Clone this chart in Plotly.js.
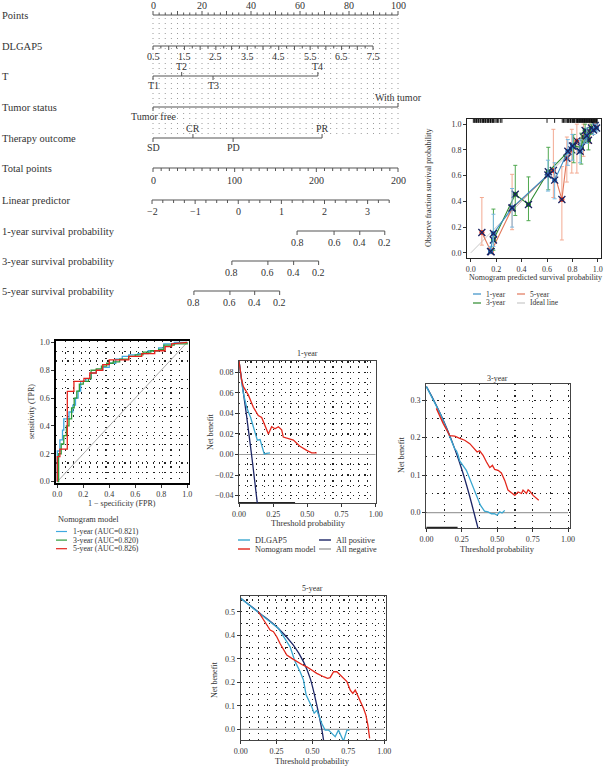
<!DOCTYPE html>
<html><head><meta charset="utf-8">
<script src="https://cdn.plot.ly/plotly-3.0.1.min.js"></script>
<style>html,body{margin:0;padding:0;background:#fff}#chart{width:604px;height:766px}</style>
</head><body><div id="chart"></div>
<script>
const W = 604, H = 766;
const FONT = '"Liberation Serif","DejaVu Serif","Times New Roman",serif';
const TXT = '#333';

// ---------------- Nomogram data ----------------
const nomoLabels = ["Points","DLGAP5","T","Tumor status","Therapy outcome","Total points","Linear predictor","1-year survival probability","3-year survival probability","5-year survival probability"];
const pointsTickVals = [0,20,40,60,80,100];
const dlgap5TickVals = [0.5,1.5,2.5,3.5,4.5,5.5,6.5,7.5];
const dlgap5MaxPoints = 89.8;
const tLevels = ["T1","T2","T3","T4"];
const tPoints = [0,11.7,24.5,67.3];
const tumorLevels = ["Tumor free","With tumor"];
const tumorPoints = [0,100];
const therapyLevels = ["SD","CR","PD","PR"];
const therapyPoints = [0,16.3,32.7,69.0];
const totalTickVals = [0,100,200,300];
const totalTickText = ["0","100","200","200"];
const totalMax = 300;
const lpTickVals = [-2,-1,0,1,2,3];
const lpTickText = ["\u22122","\u22121","0","1","2","3"];
const lpRange = [-2,3.5];
const survLabels = ["0.8","0.6","0.4","0.2"];
const surv1Points = [58.8,73.9,84.4,94.6];
const surv3Points = [32.2,46.9,57.4,67.6];
const surv5Points = [16.7,31.4,41.5,51.7];

// ---------------- Calibration data ----------------
const cal1x = [0.155,0.178,0.325,0.607,0.66,0.764,0.80,0.86,0.913,0.966,0.99];
const cal1y = [0.01,0.15,0.35,0.605,0.565,0.79,0.83,0.79,0.91,0.955,0.97];
const cal1lo = [0.0,0.05,0.20,0.48,0.42,0.68,0.72,0.70,0.85,0.92,0.94];
const cal1hi = [0.05,0.30,0.50,0.72,0.70,0.88,0.92,0.88,0.97,1.0,1.0];
const cal3x = [0.178,0.35,0.454,0.61,0.81,0.87,0.90,0.926,0.95];
const cal3y = [0.10,0.455,0.376,0.63,0.83,0.82,0.95,0.875,0.97];
const cal3lo = [0.02,0.29,0.25,0.49,0.70,0.69,0.86,0.80,0.92];
const cal3hi = [0.34,0.68,0.59,0.82,0.92,0.93,1.0,0.95,1.0];
const cal5x = [0.087,0.16,0.325,0.65,0.717,0.756,0.795,0.835,0.887,0.94,0.98];
const cal5y = [0.158,0.008,0.345,0.64,0.415,0.735,0.80,0.87,0.90,0.94,0.99];
const cal5lo = [0.06,0.0,0.18,0.43,0.10,0.55,0.62,0.62,0.75,0.85,0.95];
const cal5hi = [0.43,0.03,0.61,0.96,0.67,0.90,0.96,1.0,1.0,1.0,1.0];
const rugX = [0.02,0.03,0.035,0.045,0.05,0.06,0.065,0.075,0.08,0.09,0.095,0.10,0.11,0.115,0.12,0.13,0.135,0.14,0.15,0.155,0.16,0.17,0.175,0.18,0.19,0.20,0.21,0.22,0.235,0.245,
  0.60,0.66,0.72,0.73,0.74,0.75,0.76,0.765,0.77,0.78,0.785,0.79,0.80,0.805,0.81,0.815,0.82,0.83,0.835,0.84,0.845,0.85,0.855,0.86,0.865,0.87,0.875,0.88,0.885,0.89,0.895,0.90,0.905,0.91,0.915,0.92,0.925,0.93,0.935,0.94,0.945,0.95,0.955,0.96,0.965,0.97,0.975,0.98,0.985,0.99,0.995];

// ---------------- ROC data ----------------
const roc1x = [0,0,0.02,0.04,0.05,0.08,0.09,0.12,0.14,0.16,0.18,0.22,0.26,0.30,0.35,0.40,0.45,0.50,0.55,0.62,0.70,0.78,0.82,0.90,1.0];
const roc1y = [0,0.22,0.30,0.37,0.45,0.45,0.50,0.55,0.60,0.65,0.72,0.74,0.78,0.80,0.82,0.85,0.88,0.90,0.91,0.92,0.94,0.96,0.99,1.0,1.0];
const roc3x = [0,0.01,0.03,0.05,0.07,0.09,0.11,0.13,0.15,0.17,0.20,0.24,0.26,0.30,0.34,0.38,0.43,0.48,0.55,0.60,0.66,0.72,0.78,0.82,0.90,1.0];
const roc3y = [0,0.20,0.27,0.33,0.40,0.45,0.53,0.60,0.65,0.70,0.72,0.74,0.80,0.81,0.83,0.85,0.86,0.88,0.90,0.91,0.93,0.94,0.95,0.98,0.99,1.0];
const roc5x = [0,0,0.02,0.02,0.077,0.077,0.128,0.128,0.205,0.205,0.25,0.25,0.30,0.30,0.35,0.35,0.40,0.40,0.55,0.55,0.65,0.65,0.75,0.75,0.83,0.83,0.88,0.88,1.0];
const roc5y = [0,0.18,0.18,0.234,0.234,0.648,0.648,0.72,0.72,0.742,0.742,0.78,0.78,0.80,0.80,0.84,0.84,0.875,0.875,0.90,0.90,0.92,0.92,0.94,0.94,0.97,0.97,0.99,1.0];
const rocLegend = ["1-year (AUC=0.821)","3-year (AUC=0.820)","5-year (AUC=0.826)"];

// ---------------- DCA data ----------------
const negX = [0,1];
const negY = [0,0];
// 1-year
const d1AllX = [0,0.05,0.10,0.145];
const d1AllY = [0.091,0.043,-0.009,-0.06];
const d1BaseX = [0,0.41];
const d1DlgX = [0,0.03,0.045,0.056,0.073,0.085,0.105,0.124,0.134,0.154,0.166,0.185,0.2,0.227];
const d1DlgY = [0.091,0.061,0.052,0.046,0.040,0.036,0.027,0.017,0.014,0.0146,0.009,0.0003,0.001,0.0016];
const d1NomX = [0,0.02,0.032,0.068,0.105,0.141,0.166,0.19,0.215,0.239,0.263,0.288,0.312,0.324,0.361,0.398,0.422,0.446,0.495,0.532,0.568];
const d1NomY = [0.091,0.072,0.066,0.058,0.046,0.038,0.036,0.029,0.02,0.027,0.025,0.027,0.024,0.017,0.0156,0.014,0.011,0.008,0.004,0.0016,0.0016];
// 3-year
const d3AllX = [0,0.05,0.10,0.15,0.20,0.25,0.30,0.35,0.37];
const d3AllY = [0.336,0.301,0.262,0.219,0.170,0.115,0.051,-0.021,-0.05];
const d3BaseX = [0,0.22];
const d3DlgX = [0,0.10,0.20,0.212,0.224,0.235,0.282,0.306,0.33,0.348,0.365,0.381,0.41,0.435,0.459,0.48,0.499,0.518,0.534,0.553];
const d3DlgY = [0.336,0.262,0.170,0.165,0.153,0.138,0.113,0.091,0.069,0.051,0.033,0.02,0.004,0.002,-0.003,-0.003,-0.007,0.002,-0.001,0.006];
const d3NomX = [0.07,0.118,0.165,0.2,0.235,0.27,0.306,0.341,0.358,0.376,0.4,0.424,0.447,0.466,0.482,0.506,0.529,0.553,0.576,0.6,0.624,0.647,0.671,0.682,0.706,0.718,0.73,0.753,0.776,0.793];
const d3NomY = [0.278,0.238,0.205,0.204,0.198,0.193,0.184,0.171,0.162,0.165,0.153,0.135,0.12,0.126,0.115,0.113,0.106,0.086,0.06,0.053,0.046,0.055,0.051,0.06,0.051,0.061,0.057,0.046,0.037,0.033];
// 5-year
const d5AllX = [0,0.135,0.263,0.367,0.437,0.484,0.53,0.565,0.577];
const d5AllY = [0.557,0.493,0.429,0.358,0.288,0.217,0.103,0.0,-0.045];
const d5DlgX = [0,0.135,0.263,0.344,0.379,0.414,0.437,0.456,0.479,0.495,0.512,0.53,0.547,0.565,0.588,0.612,0.635,0.658,0.681,0.698,0.716,0.74,0.758];
const d5DlgY = [0.557,0.493,0.429,0.351,0.288,0.245,0.21,0.146,0.118,0.096,0.068,0.082,0.054,0.025,-0.003,-0.003,-0.017,-0.031,-0.003,-0.024,-0.05,-0.003,-0.003];
const d5NomX = [0.123,0.158,0.181,0.205,0.228,0.251,0.274,0.298,0.321,0.356,0.391,0.426,0.46,0.495,0.53,0.577,0.605,0.623,0.647,0.67,0.693,0.716,0.74,0.763,0.781,0.798,0.814,0.833,0.856,0.872,0.886,0.898];
const d5NomY = [0.5,0.465,0.443,0.422,0.415,0.394,0.365,0.337,0.316,0.302,0.288,0.276,0.266,0.252,0.238,0.224,0.217,0.22,0.245,0.245,0.231,0.217,0.203,0.167,0.153,0.167,0.146,0.118,0.089,0.061,0.018,-0.038];
const dcaLegend = ["DLGAP5","Nomogram model","All positive","All negative"];

// ---------------- colours ----------------
const C_BLUE = '#3AA6CF', C_RED = '#E3261B', C_NAVY = '#1C2566', C_GRAY = '#A0A0A0';

// ---------------- helpers ----------------
const traces = [], annotations = [], shapes = [];
function px(x){return x/W;} function py(y){return 1-y/H;}
function ptext(text,x,y,size,opts){annotations.push(Object.assign({xref:'paper',yref:'paper',x:px(x),y:py(y),text:text,showarrow:false,xanchor:'center',yanchor:'middle',font:{family:FONT,size:size,color:TXT}},opts||{}));}
function legLine(x0,x1,y,color,w){shapes.push({type:'line',xref:'paper',yref:'paper',x0:px(x0),x1:px(x1),y0:py(y),y1:py(y),line:{color:color,width:w||1.5}});}

// ---------------- Nomogram ----------------
const rowY = [15,46,76,107,138,168,200,231,261,291];
const segX=[], segY=[], tkX=[], tkY=[], grX=[], grY=[];
function line(x0,x1,y){segX.push(x0,x1,null);segY.push(y,y,null);}
function tick(x,y,len){tkX.push(x,x,null);tkY.push(y,y+len,null);}
function nlab(text,x,y,size){annotations.push({xref:'x',yref:'y',x:x,y:y,text:text,showarrow:false,xanchor:'center',yanchor:'middle',font:{family:FONT,size:size||10,color:TXT}});}
nomoLabels.forEach((t,i)=>annotations.push({xref:'paper',yref:'y',x:0,y:rowY[i],text:t,showarrow:false,xanchor:'left',yanchor:'middle',font:{family:FONT,size:10.5,color:TXT}}));
for(let v=0; v<=100.001; v+=2.5){grX.push(v,v,null);grY.push(18,135,null);}
line(0,100,rowY[0]);
for(let v=0; v<=100.001; v+=2.5){tick(v,rowY[0],(Math.abs(v%10)<1e-6)?-4:-2.5);}
pointsTickVals.forEach(v=>nlab(String(v),v,rowY[0]-10));
const dlgPts = v => (v-dlgap5TickVals[0])/(dlgap5TickVals[dlgap5TickVals.length-1]-dlgap5TickVals[0])*dlgap5MaxPoints;
line(0,dlgap5MaxPoints,rowY[1]);
for(let v=0.5; v<=7.5001; v+=0.25){tick(dlgPts(v),rowY[1],(Math.abs((v*2)%1)<1e-6)?4:2.5);}
dlgap5TickVals.forEach(v=>nlab(v.toFixed(1),dlgPts(v),rowY[1]+10));
function catRow(levels,pts,y){
  line(Math.min(...pts),Math.max(...pts),y);
  levels.forEach((l,i)=>{const up=(i%2===1); tick(pts[i],y,up?-4:4); nlab(l,pts[i],up?y-9.5:y+9.5);});
}
catRow(tLevels,tPoints,rowY[2]);
catRow(tumorLevels,tumorPoints,rowY[3]);
catRow(therapyLevels,therapyPoints,rowY[4]);
const totPts = t => t/totalMax*100;
line(0,100,rowY[5]);
for(let t=0; t<=totalMax; t+=10){tick(totPts(t),rowY[5],(t%100===0)?4:3);}
totalTickVals.forEach((t,i)=>nlab(totalTickText[i],totPts(t),rowY[5]+12));
const lpPts = l => 34.8 + 17.6*l;
line(lpPts(lpRange[0]),lpPts(lpRange[1]),rowY[6]);
for(let l=lpRange[0]; l<=lpRange[1]+1e-6; l+=0.25){tick(lpPts(l),rowY[6],(Math.abs(l%1)<1e-6)?4:3);}
lpTickVals.forEach((l,i)=>nlab(lpTickText[i],lpPts(l),rowY[6]+11));
[[surv1Points,rowY[7]],[surv3Points,rowY[8]],[surv5Points,rowY[9]]].forEach(([pts,y])=>{
  line(pts[0],pts[pts.length-1],y);
  pts.forEach((p,i)=>{tick(p,y,4); nlab(survLabels[i],p,y+11);});
});
traces.push({x:grX,y:grY,xaxis:'x',yaxis:'y',mode:'lines',line:{color:'#9a9a9a',width:1,dash:'1px,4px'},hoverinfo:'skip'});
traces.push({x:segX,y:segY,xaxis:'x',yaxis:'y',mode:'lines',line:{color:'#555',width:1.1},hoverinfo:'skip'});
traces.push({x:tkX,y:tkY,xaxis:'x',yaxis:'y',mode:'lines',line:{color:'#555',width:1},hoverinfo:'skip'});

// ---------------- Calibration ----------------
traces.push({x:[0,1],y:[0,1],xaxis:'x2',yaxis:'y2',mode:'lines',line:{color:'#c8c8c8',width:1},hoverinfo:'skip'});
function calSeries(xs,ys,lo,hi,lineC,errC,ptC){
  traces.push({x:xs,y:ys,xaxis:'x2',yaxis:'y2',mode:'lines+markers',line:{color:lineC,width:1.1},
    marker:{color:ptC,size:5,symbol:'circle'},
    error_y:{type:'data',symmetric:false,array:hi.map((h,i)=>h-ys[i]),arrayminus:lo.map((l,i)=>ys[i]-l),color:errC,thickness:1,width:2}});
  traces.push({x:xs,y:ys,xaxis:'x2',yaxis:'y2',mode:'markers',marker:{symbol:'x-thin-open',size:7,color:'#1A2260',line:{color:'#1A2260',width:1.3}},hoverinfo:'skip'});
}
calSeries(cal5x,cal5y,cal5lo,cal5hi,'#E2775A','#F3AA92','#E8402A');
calSeries(cal3x,cal3y,cal3lo,cal3hi,'#2E8B2E','#4FA84F','#228B22');
calSeries(cal1x,cal1y,cal1lo,cal1hi,'#3A8FC7','#79B8E0','#2B7BC0');
const rx=[], ry=[]; rugX.forEach(v=>{rx.push(v,v,null);ry.push(1.04,1.01,null);});
traces.push({x:rx,y:ry,xaxis:'x2',yaxis:'y2',mode:'lines',line:{color:'#000',width:0.9},hoverinfo:'skip'});
ptext('Observe fraction survival probability',428,188,8,{textangle:-90});
ptext('Nomogram predicted survival probability',535,278,8);
legLine(473,481,294,'#3A8FC7',1.2); ptext('1-year',484,294,7.5,{xanchor:'left'});
legLine(517,525,294,'#E2775A',1.2); ptext('5-year',528,294,7.5,{xanchor:'left'});
legLine(473,481,303,'#2E8B2E',1.2); ptext('3-year',484,303,7.5,{xanchor:'left'});
legLine(517,525,303,'#c8c8c8',1.2); ptext('Ideal line',528,303,7.5,{xanchor:'left'});

// ---------------- ROC ----------------
traces.push({x:[0,1],y:[0,1],xaxis:'x3',yaxis:'y3',mode:'lines',line:{color:'#aaa',width:1},hoverinfo:'skip'});
traces.push({x:roc1x,y:roc1y,xaxis:'x3',yaxis:'y3',mode:'lines',line:{color:'#3FA9E0',width:1.3,shape:'hv'}});
traces.push({x:roc3x,y:roc3y,xaxis:'x3',yaxis:'y3',mode:'lines',line:{color:'#2E9B3A',width:1.3,shape:'hv'}});
traces.push({x:roc5x,y:roc5y,xaxis:'x3',yaxis:'y3',mode:'lines',line:{color:'#E5231B',width:1.3}});
ptext('sensitivity (TPR)',31,412,8,{textangle:-90});
ptext('1 \u2212 specificity (FPR)',122,503,8);
ptext('Nomogram model',56,519,8.3,{xanchor:'left'});
const rocCols=['#3FA9E0','#2E9B3A','#E5231B'];
rocLegend.forEach((t,i)=>{legLine(56,67,531.5+i*8.6,rocCols[i],1.2); ptext(t,71,531.5+i*8.6,7.8,{xanchor:'left'});});

// ---------------- DCA ----------------
function dca(xa,ya,allX,allY,dlgX,dlgY,nomX,nomY,baseX,yMin){
  traces.push({x:negX,y:negY,xaxis:xa,yaxis:ya,mode:'lines',line:{color:C_GRAY,width:1.2},hoverinfo:'skip'});
  if(baseX) traces.push({x:baseX,y:[yMin,yMin],xaxis:xa,yaxis:ya,mode:'lines',line:{color:'#222',width:2.5},hoverinfo:'skip',cliponaxis:false});
  traces.push({x:allX,y:allY,xaxis:xa,yaxis:ya,mode:'lines',line:{color:C_NAVY,width:1.3,shape:'spline'}});
  traces.push({x:dlgX,y:dlgY,xaxis:xa,yaxis:ya,mode:'lines',line:{color:C_BLUE,width:1.3}});
  traces.push({x:nomX,y:nomY,xaxis:xa,yaxis:ya,mode:'lines',line:{color:C_RED,width:1.3}});
}
const y4min=-0.0475, y5min=-0.041;
dca('x4','y4',d1AllX,d1AllY,d1DlgX,d1DlgY,d1NomX,d1NomY,d1BaseX,y4min);
dca('x5','y5',d3AllX,d3AllY,d3DlgX,d3DlgY,d3NomX,d3NomY,d3BaseX,y5min);
dca('x6','y6',d5AllX,d5AllY,d5DlgX,d5DlgY,d5NomX,d5NomY,null,0);
ptext('1-year',307,353,8); ptext('Net benefit',210,432,8,{textangle:-90}); ptext('Threshold probability',308,523,8.5);
ptext('3-year',497,378,8); ptext('Net benefit',401,455,8,{textangle:-90}); ptext('Threshold probability',497,549,8.5);
ptext('5-year',312,588,8); ptext('Net benefit',214,680,8,{textangle:-90}); ptext('Threshold probability',312,761,8.5);
const dcaCols=[C_BLUE,C_RED,C_NAVY,C_GRAY];
const dcaLegPos=[[238,540],[238,549],[319,540],[319,549]];
dcaLegend.forEach((t,i)=>{const [lx,ly]=dcaLegPos[i]; legLine(lx,lx+12,ly,dcaCols[i],1.4); ptext(t,lx+15,ly,8.3,{xanchor:'left'});});

// ---------------- axes ----------------
const GRID = {gridcolor:'#222',griddash:'1.2px,4.5px',gridwidth:1.1};
function fax(dom,range,anchor,extra){
  return Object.assign({domain:dom,range:range,anchor:anchor,showline:true,mirror:true,linecolor:'#222',linewidth:1,
    ticks:'outside',ticklen:3,tickcolor:'#333',tickwidth:1,tickfont:{family:FONT,size:8,color:TXT},
    zeroline:false,showgrid:false,fixedrange:true,tickmode:'linear',tick0:0},extra||{});
}
function gridAx(md){return Object.assign({showgrid:true},GRID,{minor:Object.assign({tickmode:'linear',tick0:0,dtick:md,showgrid:true,ticks:''},GRID)});}
const dX = (a,b)=>[a/W,b/W];
const dY = (t,b)=>[1-b/H,1-t/H];

const layout = {
  width:W,height:H,margin:{l:0,r:0,t:0,b:0},paper_bgcolor:'#fff',plot_bgcolor:'rgba(0,0,0,0)',showlegend:false,
  xaxis:{domain:[0,430/W],range:[-153/2.45,(430-153)/2.45],visible:false,fixedrange:true,anchor:'y'},
  yaxis:{domain:[1-310/H,1],range:[310,0],visible:false,fixedrange:true,anchor:'x'},
  xaxis2:fax(dX(467,601),[-0.03,1.025],'y2',{dtick:0.2,tickformat:'.1f'}),
  yaxis2:fax(dY(119,258),[-0.04,1.04],'x2',{dtick:0.2,tickformat:'.1f'}),
  xaxis3:fax(dX(56,188.5),[-0.01,1.01],'y3',{dtick:0.2,tickformat:'.1f',linewidth:1.6,linecolor:'#000',minor:Object.assign({tickmode:'linear',tick0:0,dtick:0.0625,showgrid:true,ticks:''},GRID)}),
  yaxis3:fax(dY(341,483),[-0.01,1.01],'x3',{dtick:0.2,tickformat:'.1f',linewidth:1.6,linecolor:'#000',minor:Object.assign({tickmode:'linear',tick0:0,dtick:1/15,showgrid:true,ticks:''},GRID)}),
  xaxis4:fax(dX(239,375.7),[0,1],'y4',Object.assign({dtick:0.25,tickformat:'.2f',linecolor:'#444'},gridAx(0.0625))),
  yaxis4:fax(dY(360.7,503.3),[y4min,0.0913],'x4',Object.assign({dtick:0.02,tickformat:'.2f',linecolor:'#444'},gridAx(0.01))),
  xaxis5:fax(dX(426,569.5),[-0.003,1.01],'y5',Object.assign({dtick:0.25,tickformat:'.2f',linecolor:'#444'},gridAx(0.125))),
  yaxis5:fax(dY(384,528),[y5min,0.343],'x5',Object.assign({dtick:0.1,tickformat:'.1f',linecolor:'#444'},gridAx(0.05))),
  xaxis6:fax(dX(240.7,385.7),[0,1.01],'y6',Object.assign({dtick:0.25,tickformat:'.2f',linecolor:'#444'},gridAx(0.0625))),
  yaxis6:fax(dY(596,740),[-0.045,0.567],'x6',Object.assign({dtick:0.1,tickformat:'.1f',linecolor:'#444'},gridAx(0.05))),
  annotations:annotations,shapes:shapes
};
Plotly.newPlot('chart',traces,layout,{staticPlot:true,displayModeBar:false});
</script></body></html>
